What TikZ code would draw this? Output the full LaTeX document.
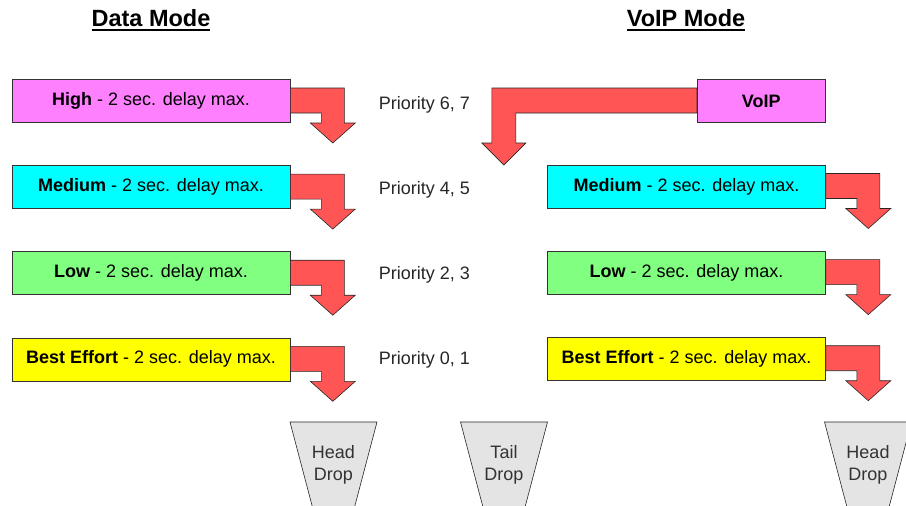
\documentclass[tikz,border=0pt]{standalone}
\usepackage{fontspec}
\setmainfont{Liberation Sans}
\usetikzlibrary{positioning,calc}
\definecolor{hipink}{HTML}{FF80FF}
\definecolor{medcyan}{HTML}{00FFFF}
\definecolor{lowgreen}{HTML}{80FF80}
\definecolor{beyellow}{HTML}{FFFF00}
\definecolor{flowred}{HTML}{FF5555}
\definecolor{dropgray}{HTML}{E4E4E4}
\tikzset{
  qbox/.style={draw=black!80, line width=0.6pt, minimum width=278pt, minimum height=43pt, inner sep=0pt, font=\fontsize{18}{20}\selectfont},
  flow/.style={draw=black!85, fill=flowred, line width=0.6pt, line join=miter},
  drop/.style={draw=black!85, fill=dropgray, line width=0.6pt},
  droptext/.style={align=center, font=\fontsize{18}{22}\selectfont, text=black!80},
  prio/.style={font=\fontsize{18}{20}\selectfont, text=black!85},
  mode/.style={font=\fontsize{23.5}{28}\selectfont\bfseries}
}
% underlined mode heading
\newcommand{\modeul}[1]{\setbox0=\hbox{#1}\leavevmode\rlap{\copy0}\rule[-4.5pt]{\wd0}{1.6pt}}
% bent arrow leaving a queue box to the right and down
\newcommand{\downflow}[1]{%
  \draw[flow] ([yshift=13pt]#1.east) -- ++(54,0) -- ++(0,-35) -- ++(11,0) -- ++(-22.5,-20)
    -- ++(-22.5,20) -- ++(11,0) -- ++(0,10) -- ([yshift=-12pt]#1.east) -- cycle;}
% drop funnel at the bottom
\newcommand{\dropfunnel}[3]{%
  \draw[drop] (#2-43.5,-422) -- (#2+43.5,-422) -- (#2+15,-530) -- (#2-15,-530) -- cycle;
  \node[droptext] (#1) at (#2,-465) {#3};}

\begin{document}
\begin{tikzpicture}[x=1pt, y=1pt, node distance=42.5pt]
  \useasboundingbox (0,0) rectangle (906,-506);

  \node[mode] (datamode) at (151,-20) {\modeul{Data Mode}};
  \node[mode] (voipmode) at (686,-20) {\modeul{VoIP Mode}};

  % data mode queues
  \node[qbox, fill=hipink] (high) at (151,-101) {\textbf{High} - 2 sec. delay max.};
  \node[qbox, fill=medcyan, below=of high] (med) {\textbf{Medium} - 2 sec. delay max.};
  \node[qbox, fill=lowgreen, below=of med] (low) {\textbf{Low} - 2 sec. delay max.};
  \node[qbox, fill=beyellow, below=of low] (best) {\textbf{Best Effort} - 2 sec. delay max.};
  \downflow{high}
  \downflow{med}
  \downflow{low}
  \downflow{best}

  % priorities
  \node[prio] (p67) at (424.5,-105) {Priority 6, 7};
  \node[prio] (p45) at (424.5,-190) {Priority 4, 5};
  \node[prio] (p23) at (424.5,-275) {Priority 2, 3};
  \node[prio] (p01) at (424.5,-360) {Priority 0, 1};

  % voip mode queues
  \node[qbox, fill=hipink, minimum width=128pt, anchor=east] (voip) at (825.5,-101) {\textbf{VoIP}};
  \node[qbox, fill=medcyan] (vmed) at (686.5,-186.5) {\textbf{Medium} - 2 sec. delay max.};
  \node[qbox, fill=lowgreen, below=of vmed] (vlow) {\textbf{Low} - 2 sec. delay max.};
  \node[qbox, fill=beyellow, below=of vlow] (vbest) {\textbf{Best Effort} - 2 sec. delay max.};
  \draw[flow] ([yshift=13pt]voip.west) -- ++(-205,0) -- ++(0,-55) -- ++(-10,0) -- ++(22,-22)
    -- ++(22,22) -- ++(-10,0) -- ++(0,30) -- ([yshift=-12pt]voip.west) -- cycle;
  \downflow{vmed}
  \downflow{vlow}
  \downflow{vbest}

  % drops
  \dropfunnel{hdrop}{333.5}{Head\\Drop}
  \dropfunnel{tdrop}{504}{Tail\\Drop}
  \dropfunnel{vhdrop}{868}{Head\\Drop}
\end{tikzpicture}
\end{document}
